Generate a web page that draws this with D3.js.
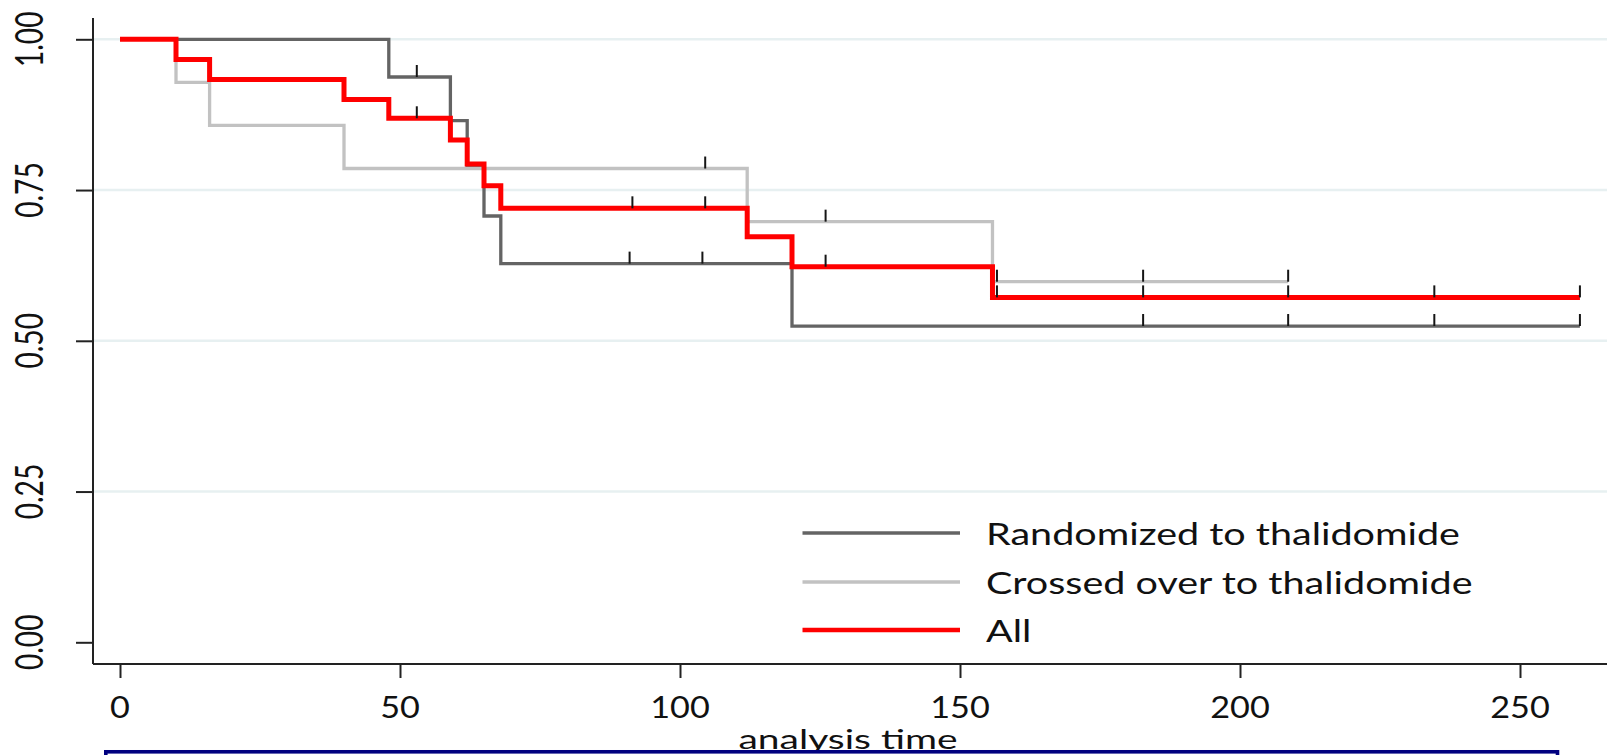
<!DOCTYPE html>
<html><head><meta charset="utf-8">
<script src="https://cdn.jsdelivr.net/npm/d3@7"></script>
<style>html,body{margin:0;padding:0;background:#fff;overflow:hidden}</style>
</head><body><svg id="c" width="1607" height="755"></svg>
<script>
// ---- data ----
const xTicks = [0, 50, 100, 150, 200, 250];
const yTicks = [0, 0.25, 0.5, 0.75, 1];
const yTickLabels = ["0.00", "0.25", "0.50", "0.75", "1.00"];
const seriesNames = ["Randomized to thalidomide", "Crossed over to thalidomide", "All"];
const xTitle = "analysis time";

const randTimes = [0, 48, 59, 62, 65, 68, 120];
const randSurv  = [1, 0.9375, 0.865, 0.791, 0.707, 0.628, 0.5245];
const randEnd   = 260.7;
const randCens  = [53, 91, 104, 182.7, 208.6, 234.7, 260.7];

const crossTimes = [0, 10, 16, 40, 112, 155.8];
const crossSurv  = [1, 0.9286, 0.8571, 0.7857, 0.6976, 0.598];
const crossEnd   = 208.6;
const crossCens  = [104.5, 126, 156.6, 182.7, 208.6];

const allTimes = [0, 10, 16, 40, 48, 59, 62, 65, 68, 112, 120, 155.8];
const allSurv  = [1, 0.9667, 0.9333, 0.9, 0.869, 0.833, 0.7932, 0.7572, 0.7197, 0.6726, 0.6229, 0.572];
const allEnd   = 260.7;
const allCens  = [53, 91.5, 104.5, 126, 156.6, 182.7, 208.6, 234.7, 260.7];

// ---- layout ----
const svg = d3.select("#c");
const FONT = "Lato, 'Open Sans', sans-serif";
const x = d3.scaleLinear().domain([0, 250]).range([120, 1520]);
const y = d3.scaleLinear().domain([0, 1]).range([642.3, 39.3]);
const axisX = 93, axisY = 664;

function stretch(sel, f) {
  sel.each(function () {
    const L = this.getComputedTextLength();
    d3.select(this).attr("textLength", L * f).attr("lengthAdjust", "spacingAndGlyphs");
  });
}

// gridlines
svg.append("g").selectAll("line").data(yTicks.filter(d => d > 0)).join("line")
  .attr("x1", axisX).attr("x2", 1607)
  .attr("y1", d => y(d)).attr("y2", d => y(d))
  .attr("stroke", "#e7f0f1").attr("stroke-width", 2.5);

// y axis
const gy = svg.append("g").attr("transform", `translate(${axisX},0)`)
  .call(d3.axisLeft(y).tickValues(yTicks).tickSize(17).tickFormat(""));
gy.select(".domain").remove();
gy.selectAll(".tick line").attr("stroke", "#222").attr("stroke-width", 2);
svg.append("line").attr("x1", axisX).attr("x2", axisX).attr("y1", 18).attr("y2", axisY)
  .attr("stroke", "#222").attr("stroke-width", 2);
const ylab = svg.append("g").selectAll("text").data(yTicks).join("text")
  .attr("transform", d => `translate(43,${y(d)}) rotate(-90)`)
  .attr("text-anchor", "middle")
  .style("font-family", FONT).style("font-size", "38px").attr("fill", "#111")
  .text((d, i) => yTickLabels[i]);
stretch(ylab, 0.74);

// x axis
const gx = svg.append("g").attr("transform", `translate(0,${axisY})`)
  .call(d3.axisBottom(x).tickValues(xTicks).tickSize(14).tickFormat(""));
gx.select(".domain").remove();
gx.selectAll(".tick line").attr("stroke", "#222").attr("stroke-width", 2);
svg.append("line").attr("x1", axisX).attr("x2", 1607).attr("y1", axisY).attr("y2", axisY)
  .attr("stroke", "#222").attr("stroke-width", 2);
const xlab = svg.append("g").selectAll("text").data(xTicks).join("text")
  .attr("x", d => x(d)).attr("y", 717.5).attr("text-anchor", "middle")
  .style("font-family", FONT).style("font-size", "30px").attr("fill", "#111")
  .text(d => d);
stretch(xlab, 1.14);

// x title
svg.append("text").attr("x", 848).attr("y", 749).attr("text-anchor", "middle")
  .style("font-family", FONT).style("font-size", "27px").attr("fill", "#111").text(xTitle)
  .attr("textLength", 219).attr("lengthAdjust", "spacingAndGlyphs");

// curves
const series = [
  { times: randTimes, surv: randSurv, end: randEnd, cens: randCens, color: "#646464", w: 3.3 },
  { times: crossTimes, surv: crossSurv, end: crossEnd, cens: crossCens, color: "#c2c2c2", w: 3.3 },
  { times: allTimes, surv: allSurv, end: allEnd, cens: allCens, color: "#ff0000", w: 5 }
];
const line = d3.line().x(d => x(d[0])).y(d => y(d[1])).curve(d3.curveStepAfter);
function survAt(s, t) {
  let v = s.surv[0];
  for (let i = 0; i < s.times.length; i++) if (s.times[i] <= t) v = s.surv[i];
  return v;
}
series.forEach(s => {
  const pts = s.times.map((t, i) => [t, s.surv[i]]);
  pts.push([s.end, s.surv[s.surv.length - 1]]);
  svg.append("path").datum(pts).attr("d", line).attr("fill", "none")
    .attr("stroke", s.color).attr("stroke-width", s.w).attr("stroke-linejoin", "miter");
});
series.forEach(s => {
  svg.append("g").selectAll("line").data(s.cens).join("line")
    .attr("x1", d => x(d)).attr("x2", d => x(d))
    .attr("y1", d => y(survAt(s, d)) - 12).attr("y2", d => y(survAt(s, d)))
    .attr("stroke", "#151515").attr("stroke-width", 2);
});

// legend
const legY = [533, 582, 630];
const lg = svg.append("g");
series.forEach((s, i) => {
  lg.append("line").attr("x1", 802.5).attr("x2", 960).attr("y1", legY[i]).attr("y2", legY[i])
    .attr("stroke", s.color).attr("stroke-width", i === 2 ? 4.5 : 3.5);
});
const legText = lg.selectAll("text").data(seriesNames).join("text")
  .attr("x", 986).attr("y", (d, i) => legY[i] + 12)
  .style("font-family", FONT).style("font-size", "31px").attr("fill", "#111")
  .text(d => d);
const baseLen = legText.nodes()[0].getComputedTextLength();
stretch(legText, 474 / baseLen);

// bottom navy box
svg.append("rect").attr("x", 105.8).attr("y", 751.8).attr("width", 1451.7).attr("height", 30)
  .attr("fill", "#fff").attr("stroke", "#000080").attr("stroke-width", 3.6);
</script></body></html>
